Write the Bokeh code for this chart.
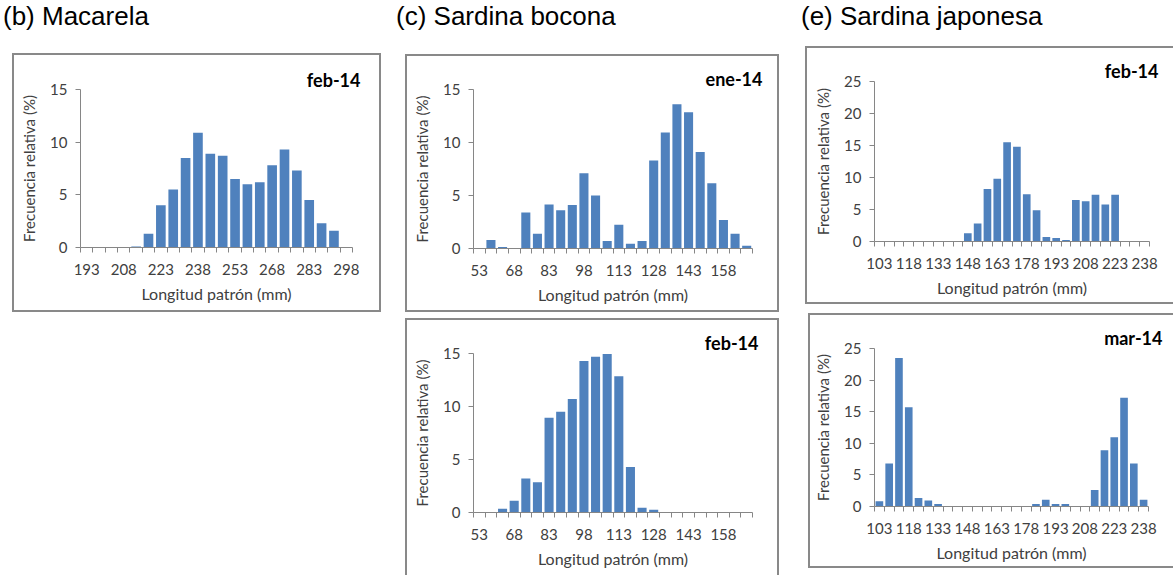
from bokeh.plotting import figure
from bokeh.models import Range1d, FixedTicker, Div, Spacer, Title
from bokeh.layouts import row, column
from bokeh.embed import file_html
from bokeh.resources import INLINE

# ---------------- data ----------------
# (b) Macarela, feb-14
mac_len = [193, 198, 203, 208, 213, 218, 223, 228, 233, 238, 243,
           248, 253, 258, 263, 268, 273, 278, 283, 288, 293, 298]
mac_feb = [0, 0, 0, 0, 0.1, 1.3, 4.0, 5.5, 8.5, 10.9, 8.9,
           8.7, 6.5, 6.0, 6.2, 7.8, 9.3, 7.3, 4.5, 2.3, 1.6, 0]
mac_ticks = [193, 208, 223, 238, 253, 268, 283, 298]

# (c) Sardina bocona, ene-14 and feb-14
boc_len = [53, 58, 63, 68, 73, 78, 83, 88, 93, 98, 103, 108,
           113, 118, 123, 128, 133, 138, 143, 148, 153, 158, 163, 168]
boc_ene = [0, 0.8, 0.15, 0, 3.4, 1.4, 4.15, 3.6, 4.1, 7.1, 5.0, 0.7,
           2.25, 0.45, 0.7, 8.3, 10.95, 13.6, 12.85, 9.1, 6.15, 2.7, 1.4, 0.25]
boc_feb = [0, 0, 0.35, 1.1, 3.2, 2.85, 8.95, 9.5, 10.7, 14.3, 14.7, 14.95,
           12.85, 4.3, 0.45, 0.25, 0, 0, 0, 0, 0, 0, 0, 0]
boc_ticks = [53, 68, 83, 98, 113, 128, 143, 158]

# (e) Sardina japonesa, feb-14 and mar-14
jap_len = [103, 108, 113, 118, 123, 128, 133, 138, 143, 148, 153, 158, 163, 168,
           173, 178, 183, 188, 193, 198, 203, 208, 213, 218, 223, 228, 233, 238]
jap_feb = [0, 0, 0, 0, 0, 0, 0, 0, 0, 1.3, 2.8, 8.2, 9.8, 15.5,
           14.8, 7.4, 4.9, 0.7, 0.55, 0.25, 6.5, 6.3, 7.3, 5.8, 7.3, 0, 0, 0]
jap_mar = [0.85, 6.8, 23.5, 15.7, 1.35, 0.95, 0.4, 0, 0, 0, 0, 0, 0, 0,
           0, 0, 0.4, 1.05, 0.4, 0.4, 0, 0, 2.6, 8.9, 10.95, 17.2, 6.8, 1.05]
jap_ticks = [103, 118, 133, 148, 163, 178, 193, 208, 223, 238]

y15_ticks = [0, 5, 10, 15]
y25_ticks = [0, 5, 10, 15, 20, 25]

# ---------------- style ----------------
FONT = "Lato"
BAR = "#4f81bd"
AXC = "#868686"
TXT = "#404040"
BOX = "#898989"


def panel(cats, vals, ymax, yticks, xticks, tag, w, h, ml, mr, mt, mb,
          sides, tag_dx, tag_dy):
    step = cats[1] - cats[0]
    x0 = cats[0] - step / 2
    x1 = cats[-1] + step / 2
    st = {"border": f"2px solid {BOX}"}
    for s in ("top", "right", "bottom", "left"):
        if s not in sides:
            st[f"border-{s}"] = "none"
    p = figure(width=w, height=h, x_range=Range1d(x0, x1),
               y_range=Range1d(0, ymax), output_backend="svg",
               toolbar_location=None, min_border_left=ml, min_border_right=mr,
               min_border_top=mt, min_border_bottom=mb, outline_line_color=None,
               background_fill_color="white", border_fill_color="white",
               styles=st, margin=0)
    p.vbar(x=cats, top=vals, width=step * 0.78, fill_color=BAR, line_color=None)
    p.grid.visible = False

    xa = p.xaxis[0]
    xa.ticker = FixedTicker(ticks=xticks,
                            minor_ticks=[x0 + step * i for i in range(len(cats) + 1)])
    xa.major_tick_out = 0
    xa.major_tick_in = 0
    xa.minor_tick_out = 5
    xa.minor_tick_in = 0
    xa.axis_line_color = AXC
    xa.minor_tick_line_color = AXC
    xa.major_label_text_font = FONT
    xa.major_label_text_font_size = "15px"
    xa.major_label_text_color = TXT
    xa.major_label_standoff = 11
    xa.axis_label = "Longitud patrón (mm)"
    xa.axis_label_text_font = FONT
    xa.axis_label_text_font_style = "normal"
    xa.axis_label_text_font_size = "16px"
    xa.axis_label_text_color = TXT
    xa.axis_label_standoff = 6

    ya = p.yaxis[0]
    ya.ticker = FixedTicker(ticks=yticks)
    ya.major_tick_out = 5
    ya.major_tick_in = 0
    ya.minor_tick_out = 0
    ya.minor_tick_in = 0
    ya.axis_line_color = AXC
    ya.major_tick_line_color = AXC
    ya.major_label_text_font = FONT
    ya.major_label_text_font_size = "15px"
    ya.major_label_text_color = TXT
    ya.major_label_standoff = 8
    ya.axis_label = "Frecuencia relativa (%)"
    ya.axis_label_text_font = FONT
    ya.axis_label_text_font_style = "normal"
    ya.axis_label_text_font_size = "15px"
    ya.axis_label_text_color = TXT
    ya.axis_label_standoff = 9

    p.title = Title(text=tag, align="right", vertical_align="bottom",
                    offset=-tag_dx, standoff=tag_dy - 3,
                    text_font=FONT, text_font_style="bold",
                    text_font_size="18px", text_color="black")
    return p


ALL = ("top", "right", "bottom", "left")
fig_b = panel(mac_len, mac_feb, 15, y15_ticks, mac_ticks, "feb-14",
              369, 259, 66, 31, 34, 67, ALL, 8, 1)
fig_ct = panel(boc_len, boc_ene, 15, y15_ticks, boc_ticks, "ene-14",
               374, 258, 66, 29, 33, 66, ALL, 10, 2)
fig_cb = panel(boc_len, boc_feb, 15, y15_ticks, boc_ticks, "feb-14",
               374, 257, 66, 29, 33, 65, ("top", "right", "left"), 6, 2)
fig_et = panel(jap_len, jap_feb, 25, y25_ticks, jap_ticks, "feb-14",
               368, 258, 67, 26, 33, 65, ("top", "bottom", "left"), 9, 3)
fig_eb = panel(jap_len, jap_mar, 25, y25_ticks, jap_ticks, "mar-14",
               365, 255, 64, 27, 33, 64, ("top", "bottom", "left"), 14, 2)

tstyle = {"font-family": "'Liberation Sans', Arial, sans-serif", "font-size": "26px",
          "line-height": "33px", "color": "black", "white-space": "nowrap"}
t_b = Div(text="(b) Macarela", width=393, height=46, margin=0, styles=tstyle)
t_c = Div(text="(c) Sardina bocona", width=405, height=46, margin=0, styles=tstyle)
t_e = Div(text="(e) Sardina japonesa", width=374, height=46, margin=0, styles=tstyle)
header = row(Spacer(width=3, height=46, margin=0), t_b, t_c, t_e)

col_b = column(Spacer(width=385, height=7, margin=0),
               row(Spacer(width=12, height=263, margin=0), fig_b))
col_c = column(Spacer(width=378, height=8, margin=0), fig_ct,
               Spacer(width=378, height=6, margin=0), fig_cb)
col_e = column(fig_et, Spacer(width=370, height=9, margin=0),
               row(Spacer(width=3, height=259, margin=0), fig_eb))
body = row(col_b, Spacer(width=20, height=535, margin=0), col_c,
           Spacer(width=22, height=535, margin=0), col_e)

layout = column(header, body)

open("out.html", "w").write(file_html(layout, INLINE))
